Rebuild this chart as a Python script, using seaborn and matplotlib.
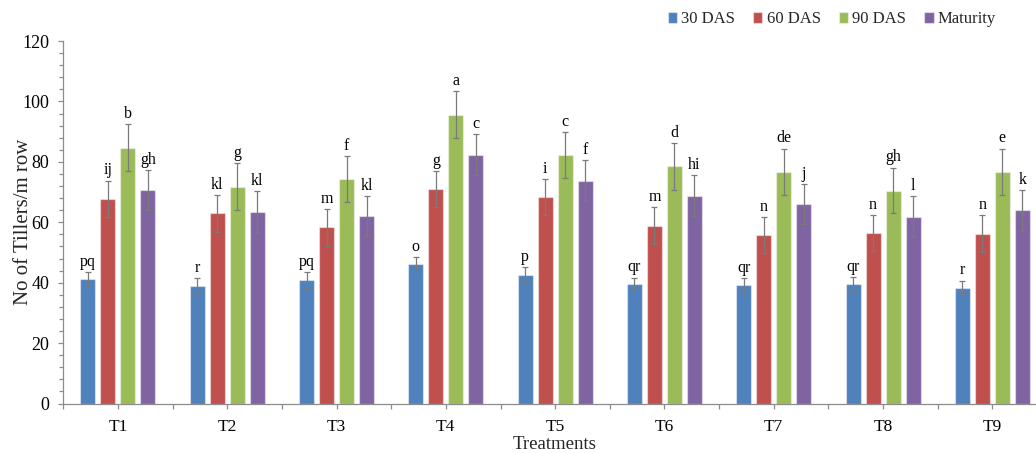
import matplotlib
matplotlib.use("Agg")
import matplotlib.pyplot as plt
from matplotlib.ticker import MultipleLocator, FixedLocator
from matplotlib.transforms import offset_copy
import numpy as np
import pandas as pd
import seaborn as sns

# Tillers per metre row at four growth stages for nine treatments
treatments = ["T1", "T2", "T3", "T4", "T5", "T6", "T7", "T8", "T9"]
stages = ["30 DAS", "60 DAS", "90 DAS", "Maturity"]

das30 = [41.1, 38.9, 41.0, 46.3, 42.6, 39.4, 39.1, 39.4, 38.4]
das60 = [67.8, 62.9, 58.4, 71.1, 68.4, 58.9, 55.7, 56.4, 56.2]
das90 = [84.7, 71.8, 74.3, 95.6, 82.3, 78.5, 76.7, 70.5, 76.7]
maturity = [70.6, 63.3, 62.1, 82.3, 73.8, 68.8, 66.0, 61.8, 64.0]

err30 = [2.5, 2.5, 2.6, 2.3, 2.5, 2.3, 2.5, 2.4, 2.3]
err60 = [6.0, 6.2, 6.1, 5.9, 6.0, 6.1, 6.0, 6.0, 6.1]
err90 = [7.8, 7.8, 7.7, 7.7, 7.7, 7.8, 7.7, 7.6, 7.7]
err_mat = [6.7, 6.9, 6.6, 6.8, 6.8, 6.7, 6.7, 6.8, 6.8]

letters30 = ["pq", "r", "pq", "o", "p", "qr", "qr", "qr", "r"]
letters60 = ["ij", "kl", "m", "g", "i", "m", "n", "n", "n"]
letters90 = ["b", "g", "f", "a", "c", "d", "de", "gh", "e"]
letters_mat = ["gh", "kl", "kl", "c", "f", "hi", "j", "l", "k"]

colors = ["#4F81BD", "#C0504D", "#9BBB59", "#8064A2"]

values = [das30, das60, das90, maturity]
errors = [err30, err60, err90, err_mat]
letters = [letters30, letters60, letters90, letters_mat]

df = pd.DataFrame({
    "Treatment": np.tile(treatments, len(stages)),
    "Stage": np.repeat(stages, len(treatments)),
    "Tillers": np.concatenate(values),
})

sns.set_style("white")
plt.rcParams["font.family"] = ["Liberation Serif", "DejaVu Serif"]

W, H = 1036, 453
fig = plt.figure(figsize=(W / 100, H / 100), dpi=100)
left_px, right_px, top_px, bottom_px = 63.3, 1047.0, 41.0, 403.5
ax = fig.add_axes([left_px / W, 1 - bottom_px / H,
                   (right_px - left_px) / W, (bottom_px - top_px) / H])

sns.barplot(data=df, x="Treatment", y="Tillers", hue="Stage",
            order=treatments, hue_order=stages, palette=colors,
            width=0.732, gap=0.25, errorbar=None, saturation=1,
            edgecolor=(1, 1, 1, 0.45), linewidth=0.9, ax=ax)

# error bars and significance letters on top of each bar
text_tr = offset_copy(ax.transData, fig=fig, x=0, y=1.5, units="points")
for cont, errs, labs in zip(ax.containers, errors, letters):
    xs = [p.get_x() + p.get_width() / 2 for p in cont.patches]
    ys = [p.get_height() for p in cont.patches]
    ax.errorbar(xs, ys, yerr=errs, fmt="none", ecolor="#7a7a7a",
                elinewidth=0.9, capsize=2.2, capthick=0.9, zorder=3)
    for x, y, e, t in zip(xs, ys, errs, labs):
        ax.text(x, y + e, t, ha="center", va="bottom", fontsize=11.5,
                color="black", transform=text_tr, zorder=4)

ax.set_xlim(-0.5, len(treatments) - 0.5)
ax.set_ylim(0, 120)
ax.yaxis.set_major_locator(MultipleLocator(20))
ax.yaxis.set_minor_locator(MultipleLocator(4))
ax.xaxis.set_minor_locator(FixedLocator(np.arange(-0.5, len(treatments), 1.0)))

axis_grey = "#8c8c8c"
for side in ["top", "right"]:
    ax.spines[side].set_visible(False)
for side in ["left", "bottom"]:
    ax.spines[side].set_color(axis_grey)
    ax.spines[side].set_linewidth(0.9)

ax.tick_params(axis="both", which="both", direction="out", color=axis_grey,
               width=0.9, labelcolor="black")
ax.tick_params(axis="y", which="major", length=3.6, pad=6.5, labelsize=13)
ax.tick_params(axis="y", which="minor", length=3.0)
ax.tick_params(axis="x", which="major", length=3.6, pad=7.5, labelsize=12.5)
ax.tick_params(axis="x", which="minor", length=3.6)
ax.tick_params(left=True, bottom=True)
ax.tick_params(axis="both", which="minor", left=True, bottom=True)

axw = right_px - left_px
axh = bottom_px - top_px
ax.set_ylabel("No of Tillers/m row", fontsize=15)
ax.set_xlabel("Treatments", fontsize=13.5)
ax.yaxis.set_label_coords((33 - left_px) / axw, 0.5)
ax.xaxis.set_label_coords((555 - left_px) / axw, (bottom_px - 436) / axh)

handles, labels = ax.get_legend_handles_labels()
if ax.get_legend() is not None:
    ax.get_legend().remove()
fig.legend(handles, labels, loc="center right",
           bbox_to_anchor=(996 / W, 1 - 19 / H), ncol=4, frameon=False,
           fontsize=12, handlelength=0.55, handleheight=0.65,
           handletextpad=0.25, columnspacing=1.1, borderpad=0,
           borderaxespad=0)

fig.savefig("out.png", dpi=100)
